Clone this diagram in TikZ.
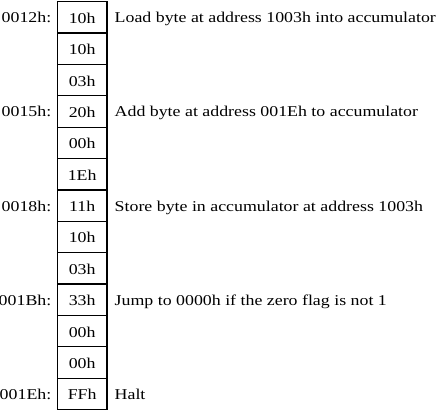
\documentclass[tikz,border=0pt]{standalone}
\usepackage{fontspec}
\setmainfont{Liberation Serif}[FakeStretch=1.19]
\begin{document}
\begin{tikzpicture}[x=1pt,y=-1pt,font=\fontsize{15}{18}\selectfont,
  cell/.style={draw, line width=1.2pt, minimum width=49.5pt, minimum height=31.385pt,
    inner sep=0pt, text height=12pt, text depth=0pt, anchor=north},
  addr/.style={anchor=base east, inner sep=0pt},
  desc/.style={anchor=base west, inner sep=0pt}]
\useasboundingbox (0,0) rectangle (442,411);
\foreach \v [count=\i from 0] in {10h,10h,03h,20h,00h,1Eh,11h,10h,03h,33h,00h,00h,FFh}
  \node[cell] (c\i) at (82.2, 1+31.385*\i) {\v};
\foreach \r/\a/\d in {0/0012h:/Load byte at address 1003h into accumulator,
                      3/0015h:/Add byte at address 001Eh to accumulator,
                      6/0018h:/Store byte in accumulator at address 1003h,
                      9/001Bh:/Jump to 0000h if the zero flag is not 1,
                      12/001Eh:/Halt}{
  \node[addr] (a\r) at (51.5, 22.7+31.385*\r) {\a};
  \node[desc] (d\r) at (114.5, 22.7+31.385*\r) {\d};
}
\end{tikzpicture}
\end{document}
